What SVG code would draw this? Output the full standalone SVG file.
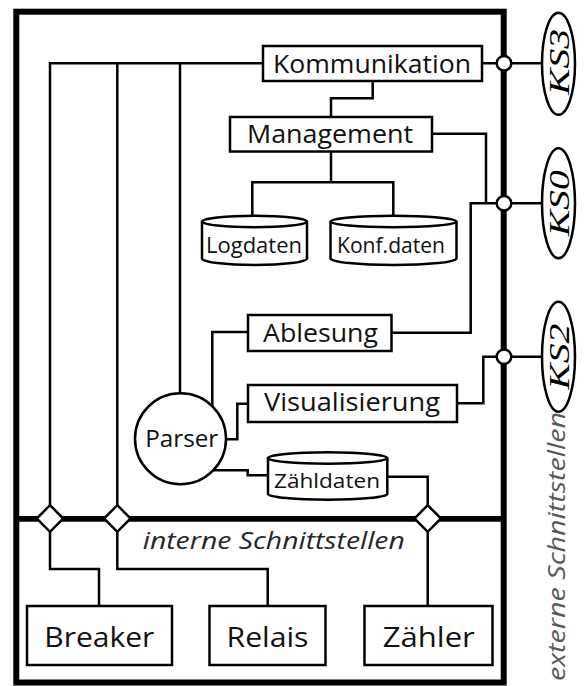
<svg xmlns="http://www.w3.org/2000/svg" width="584" height="686" viewBox="0 0 584 686">
  <style>
    .box { fill: #fff; stroke: #000; stroke-width: 2.5; }
    .wire { fill: none; stroke: #000; stroke-width: 2.5; }
    .port { fill: #fff; stroke: #000; stroke-width: 2.5; }
    .lbl { font-family: "Open Sans", "Noto Sans", sans-serif; fill: #111; text-anchor: middle; }
    .ks { font-family: "Liberation Serif", serif; font-style: italic; fill: #000; text-anchor: middle; }
    .note { font-family: "Open Sans", "Noto Sans", sans-serif; font-style: italic; text-anchor: middle; }
  </style>

  <rect width="584" height="686" fill="#fff"/>

  <!-- system boundary and internal bus -->
  <g id="frame">
    <rect x="16.3" y="11.7" width="487.4" height="670.8" fill="none" stroke="#000" stroke-width="6"/>
    <line x1="16" y1="518.8" x2="504" y2="518.8" stroke="#000" stroke-width="5.7"/>
  </g>

  <!-- connectors -->
  <g id="connectors" class="wire">
    <polyline points="50,505 50,63.3 262.7,63.3"/>
    <line x1="117.3" y1="63.3" x2="117.3" y2="505"/>
    <line x1="180" y1="63.3" x2="180" y2="393.3"/>
    <line x1="482.3" y1="63.3" x2="542" y2="63.3"/>
    <polyline points="372.7,81 372.7,98.3 331,98.3 331,116"/>
    <line x1="331" y1="151.7" x2="331" y2="182.3"/>
    <polyline points="252.3,216 252.3,182.3 393.3,182.3 393.3,216"/>
    <polyline points="432.3,133.7 486,133.7 486,203.3"/>
    <polyline points="391.7,332.7 470.7,332.7 470.7,203.3 542,203.3"/>
    <polyline points="247.7,332 212.3,332 212.3,406"/>
    <polyline points="247.7,403.7 237.3,403.7 237.3,439.3 226,439.3"/>
    <polyline points="457.3,403.3 483.3,403.3 483.3,356.7 542,356.7"/>
    <polyline points="213.5,470.3 247.7,470.3 247.7,475.3 267.7,475.3"/>
    <polyline points="387.3,476.7 427.7,476.7 427.7,505"/>
    <line x1="427.7" y1="532" x2="427.7" y2="606"/>
    <polyline points="50,532 50,569 99,569 99,606"/>
    <polyline points="117.3,532 117.3,569 267.7,569 267.7,606"/>
  </g>

  <!-- external interface points -->
  <g id="port-ks3"><circle class="port" cx="504" cy="63.3" r="7.3"/></g>
  <g id="port-ks0"><circle class="port" cx="504" cy="203.3" r="7.3"/></g>
  <g id="port-ks2"><circle class="port" cx="504" cy="356.7" r="7.3"/></g>

  <!-- internal interface points -->
  <g id="port-breaker"><polygon class="port" points="50,505.2 63.3,518.5 50,531.8 36.7,518.5"/></g>
  <g id="port-relais"><polygon class="port" points="117.3,505.2 130.6,518.5 117.3,531.8 104,518.5"/></g>
  <g id="port-zaehler"><polygon class="port" points="427.7,505.2 441,518.5 427.7,531.8 414.4,518.5"/></g>

  <g id="kommunikation">
    <rect class="box" x="263" y="46" width="219" height="35"/>
    <text class="lbl" x="372" y="73.3" font-size="25.5" textLength="198" lengthAdjust="spacingAndGlyphs">Kommunikation</text>
  </g>

  <g id="management">
    <rect class="box" x="230" y="117" width="202" height="34.5"/>
    <text class="lbl" x="330" y="143.3" font-size="25.5" textLength="166" lengthAdjust="spacingAndGlyphs">Management</text>
  </g>

  <g id="logdaten">
    <path class="box" d="M202,221.5 V258.5 A52.5,6.5 0 0 0 307,258.5 V221.5"/>
    <ellipse class="box" cx="254.5" cy="221.5" rx="52.5" ry="5.8"/>
    <text class="lbl" x="254" y="252.7" font-size="21.5" textLength="96" lengthAdjust="spacingAndGlyphs">Logdaten</text>
  </g>

  <g id="konfdaten">
    <path class="box" d="M330.5,221.5 V258.5 A63,6.5 0 0 0 456.5,258.5 V221.5"/>
    <ellipse class="box" cx="393.5" cy="221.5" rx="63" ry="5.8"/>
    <text class="lbl" x="391" y="252.7" font-size="21.5" textLength="108" lengthAdjust="spacingAndGlyphs">Konf.daten</text>
  </g>

  <g id="ablesung">
    <rect class="box" x="248" y="315" width="143.5" height="36"/>
    <text class="lbl" x="320.5" y="341.7" font-size="25.5" textLength="115" lengthAdjust="spacingAndGlyphs">Ablesung</text>
  </g>

  <g id="visualisierung">
    <rect class="box" x="248" y="385" width="209" height="37"/>
    <text class="lbl" x="352" y="411.3" font-size="25" textLength="176" lengthAdjust="spacingAndGlyphs">Visualisierung</text>
  </g>

  <g id="parser">
    <circle class="box" cx="180.5" cy="438.7" r="45.5"/>
    <text class="lbl" x="181.7" y="447.3" font-size="24" textLength="73" lengthAdjust="spacingAndGlyphs">Parser</text>
  </g>

  <g id="zaehldaten">
    <path class="box" d="M268,458 V494 A59.7,6 0 0 0 387.3,494 V458"/>
    <ellipse class="box" cx="327.6" cy="458" rx="59.7" ry="5.8"/>
    <text class="lbl" x="327" y="488.3" font-size="20.5" textLength="106" lengthAdjust="spacingAndGlyphs">Zähldaten</text>
  </g>

  <g id="breaker">
    <rect class="box" x="27" y="606" width="145" height="59"/>
    <text class="lbl" x="99.3" y="646.7" font-size="28" textLength="110" lengthAdjust="spacingAndGlyphs">Breaker</text>
  </g>

  <g id="relais">
    <rect class="box" x="209.5" y="606" width="116" height="59"/>
    <text class="lbl" x="267.5" y="646.7" font-size="28" textLength="82" lengthAdjust="spacingAndGlyphs">Relais</text>
  </g>

  <g id="zaehler">
    <rect class="box" x="364.5" y="606" width="128" height="59"/>
    <text class="lbl" x="428.8" y="646.7" font-size="28" textLength="92" lengthAdjust="spacingAndGlyphs">Zähler</text>
  </g>

  <g id="ks3">
    <ellipse class="box" cx="558.5" cy="63.8" rx="16.5" ry="51"/>
    <text class="ks" transform="translate(569,62) rotate(-90)" font-size="30" textLength="66" lengthAdjust="spacingAndGlyphs">KS3</text>
  </g>

  <g id="ks0">
    <ellipse class="box" cx="558.5" cy="203.3" rx="16.5" ry="55"/>
    <text class="ks" transform="translate(569,203.3) rotate(-90)" font-size="30" textLength="66" lengthAdjust="spacingAndGlyphs">KS0</text>
  </g>

  <g id="ks2">
    <ellipse class="box" cx="558.5" cy="356.7" rx="16.5" ry="55"/>
    <text class="ks" transform="translate(569,356.7) rotate(-90)" font-size="30" textLength="66" lengthAdjust="spacingAndGlyphs">KS2</text>
  </g>

  <text class="note" x="273.8" y="548.5" font-size="24" fill="#262626" textLength="262" lengthAdjust="spacingAndGlyphs">interne Schnittstellen</text>
  <text class="note" transform="translate(565,546.5) rotate(-90)" font-size="24" fill="#595959" textLength="269" lengthAdjust="spacingAndGlyphs">externe Schnittstellen</text>
</svg>
